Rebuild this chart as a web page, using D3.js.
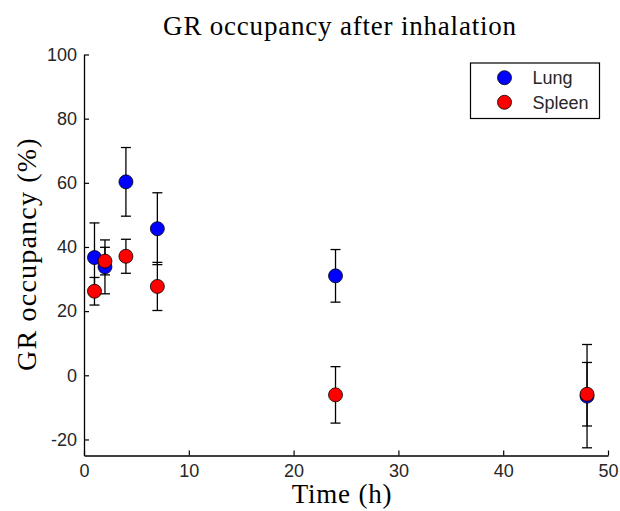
<!DOCTYPE html>
<html>
<head>
<meta charset="utf-8">
<script src="https://cdn.jsdelivr.net/npm/d3@7"></script>
<style>
    body { margin: 0; background: #fff; }
    svg { display: block; }
    .tick-label { font-family: "Liberation Sans", Arial, sans-serif; font-size: 18px; fill: #262626; }
    .serif { font-family: "Liberation Serif", "Times New Roman", serif; fill: #000; font-size: 27px; letter-spacing: 0.8px; }
</style>
</head>
<body>
<svg id="chart" width="620" height="511"></svg>
<script>
    var times = [1, 2, 4, 7, 24, 48],
        lungMean = [36.7, 33.8, 60.3, 45.7, 31.0, -6.5],
        lungErr = [10.8, 8.4, 10.7, 11.2, 8.2, 16.1],
        spleenMean = [26.2, 35.6, 37.1, 27.7, -6.1, -5.9],
        spleenErr = [4.3, 4.3, 5.3, 7.5, 8.8, 9.9],
        xTicks = [0, 10, 20, 30, 40, 50],
        yTicks = [-20, 0, 20, 40, 60, 80, 100];

(function () {
    'use strict';

    var series = [
        { name: 'Lung', color: '#0000ff', mean: lungMean, err: lungErr },
        { name: 'Spleen', color: '#ff0000', mean: spleenMean, err: spleenErr }
    ];

    var svg = d3.select('#chart'),
        plotLeft = 84,
        plotRight = 608,
        plotTop = 54.5,
        plotBottom = 455.5,
        tickLen = 5,
        capW = 5,
        radius = 7;

    var x = d3.scaleLinear().domain([0, 50]).range([plotLeft, plotRight]),
        y = d3.scaleLinear().domain([-25, 100]).range([plotBottom, plotTop]);

    // plain hyphen for negatives, like the original
    function fmt(v) {
        return String(v);
    }

    // axes: ticks point into the plot area
    var xAxis = d3.axisBottom(x).tickValues(xTicks).tickFormat(fmt)
            .tickSizeInner(-tickLen).tickSizeOuter(0).tickPadding(9),
        yAxis = d3.axisLeft(y).tickValues(yTicks).tickFormat(fmt)
            .tickSizeInner(-tickLen).tickSizeOuter(0).tickPadding(7);

    function styleAxis(g) {
        g.select('.domain').attr('stroke', '#000').attr('stroke-width', 1.3);
        g.selectAll('.tick line').attr('stroke', '#000').attr('stroke-width', 1.2);
        g.selectAll('.tick text')
            .attr('class', 'tick-label')
            .attr('fill', null);
        g.attr('font-size', null).attr('font-family', null);
    }

    svg.append('g')
        .attr('transform', 'translate(0,' + plotBottom + ')')
        .call(xAxis)
        .call(styleAxis);

    svg.append('g')
        .attr('transform', 'translate(' + plotLeft + ',0)')
        .call(yAxis)
        .call(styleAxis);

    // error bars first, markers on top
    series.forEach(function (s) {
        var pts = times.map(function (t, i) {
            return { t: t, m: s.mean[i], e: s.err[i] };
        });

        var g = svg.append('g').attr('class', 'errors ' + s.name);

        g.selectAll('line.stem')
            .data(pts)
            .enter()
            .append('line')
            .attr('class', 'stem')
            .attr('x1', function (d) { return x(d.t); })
            .attr('x2', function (d) { return x(d.t); })
            .attr('y1', function (d) { return y(d.m - d.e); })
            .attr('y2', function (d) { return y(d.m + d.e); });

        ['top', 'bot'].forEach(function (side) {
            g.selectAll('line.cap-' + side)
                .data(pts)
                .enter()
                .append('line')
                .attr('class', 'cap-' + side)
                .attr('x1', function (d) { return x(d.t) - capW; })
                .attr('x2', function (d) { return x(d.t) + capW; })
                .attr('y1', function (d) { return y(side === 'top' ? d.m + d.e : d.m - d.e); })
                .attr('y2', function (d) { return y(side === 'top' ? d.m + d.e : d.m - d.e); });
        });

        g.selectAll('line')
            .attr('stroke', '#000')
            .attr('stroke-width', 1.3);
    });

    series.forEach(function (s) {
        svg.append('g')
            .selectAll('circle')
            .data(times.map(function (t, i) { return { t: t, m: s.mean[i] }; }))
            .enter()
            .append('circle')
            .attr('cx', function (d) { return x(d.t); })
            .attr('cy', function (d) { return y(d.m); })
            .attr('r', radius)
            .attr('fill', s.color)
            .attr('stroke', '#000')
            .attr('stroke-width', 0.8);
    });

    // legend
    var legend = svg.append('g').attr('transform', 'translate(470.5,63)');

    legend.append('rect')
        .attr('width', 129)
        .attr('height', 55.5)
        .attr('fill', '#fff')
        .attr('stroke', '#000')
        .attr('stroke-width', 1.2);

    var item = legend.selectAll('g.item')
        .data(series)
        .enter()
        .append('g')
        .attr('class', 'item')
        .attr('transform', function (d, i) { return 'translate(0,' + (14.7 + i * 24.6) + ')'; });

    item.append('circle')
        .attr('cx', 34)
        .attr('r', radius)
        .attr('fill', function (d) { return d.color; })
        .attr('stroke', '#000')
        .attr('stroke-width', 0.8);

    item.append('text')
        .attr('class', 'tick-label')
        .attr('x', 62)
        .attr('dy', '0.35em')
        .text(function (d) { return d.name; });

    // titles
    svg.append('text')
        .attr('class', 'serif')
        .attr('x', 340)
        .attr('y', 35)
        .attr('text-anchor', 'middle')
        .text('GR occupancy after inhalation');

    svg.append('text')
        .attr('class', 'serif')
        .attr('x', 342)
        .attr('y', 503)
        .attr('text-anchor', 'middle')
        .text('Time (h)');

    svg.append('text')
        .attr('class', 'serif')
        .attr('transform', 'translate(36,254) rotate(-90)')
        .attr('text-anchor', 'middle')
        .style('font-size', '28px')
        .style('letter-spacing', '1.2px')
        .text('GR occupancy (%)');
})();
</script>
</body>
</html>
